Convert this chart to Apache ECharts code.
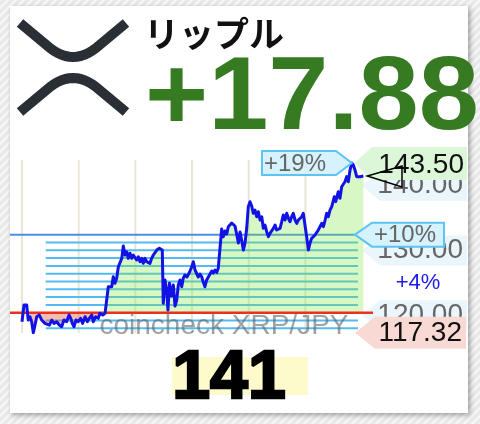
<!DOCTYPE html>
<html><head><meta charset="utf-8">
<script src="https://cdn.jsdelivr.net/npm/echarts@6/dist/echarts.min.js"></script>
<style>html,body{margin:0;padding:0;background:#fff}#c{width:480px;height:424px}</style>
</head><body><div id="c"></div>
<script>
// ---- data (hours since start, price in JPY) ----
const hours = [0.00,0.14,0.33,0.44,0.56,0.68,0.80,0.92,1.04,1.22,
1.39,1.50,1.62,1.74,1.93,2.10,2.26,2.45,2.63,2.80,
2.96,3.15,3.32,3.44,3.55,3.67,3.81,3.97,4.14,4.28,
4.45,4.61,4.75,4.92,5.03,5.20,5.38,5.50,5.70,5.86,
5.98,6.09,6.21,6.33,6.44,6.56,6.68,6.80,6.92,7.04,
7.15,7.27,7.39,7.50,7.62,7.74,7.85,7.97,8.09,8.21,
8.33,8.45,8.56,8.68,8.80,8.91,9.03,9.15,9.27,9.39,
9.51,9.69,9.81,9.90,9.97,10.09,10.21,10.30,10.41,10.55,
10.68,10.80,10.92,11.03,11.15,11.27,11.38,11.50,11.64,11.79,
11.98,12.09,12.21,12.33,12.44,12.56,12.68,12.79,12.91,13.03,
13.15,13.27,13.39,13.50,13.62,13.74,13.85,13.97,14.09,14.21,
14.33,14.45,14.56,14.68,14.80,14.91,15.03,15.15,15.27,15.39,
15.50,15.62,15.74,15.86,15.97,16.09,16.21,16.32,16.44,16.56,
16.68,16.80,16.92,17.03,17.15,17.27,17.39,17.50,17.62,17.74,
17.86,17.97,18.09,18.21,18.33,18.44,18.56,18.68,18.80,18.91,
19.03,19.15,19.27,19.39,19.50,19.62,19.74,19.85,19.97,20.09,
20.21,20.32,20.44,20.56,20.68,20.80,20.91,21.03,21.15,21.27,
21.39,21.50,21.62,21.74,21.86,21.95,22.04,22.14,22.23,22.32,
22.44,22.56,22.67,22.79,22.91,23.03,23.15,23.27,23.38,23.50,
23.62,23.74,23.85,23.97,24.09];
const prices = [119.01,121.59,121.59,119.27,119.78,119.01,117.32,118.50,119.78,120.04,
119.27,119.53,118.76,119.01,118.50,119.27,118.76,119.01,118.50,118.24,
119.27,119.01,120.04,119.53,118.76,118.24,119.27,119.01,119.53,118.76,
119.78,119.01,119.53,120.04,119.01,119.78,119.53,120.31,120.04,120.30,
120.31,124.41,124.67,124.41,125.95,124.94,125.71,127.50,127.76,128.79,
130.69,129.30,129.81,128.79,129.57,128.79,129.30,129.57,128.53,129.04,
128.27,128.79,128.02,128.79,128.27,128.53,128.02,128.79,129.30,129.04,
130.07,130.34,130.34,130.07,121.85,125.44,123.90,120.81,124.94,122.98,
124.67,121.43,122.36,124.67,125.44,124.41,125.71,126.22,125.91,126.48,
127.50,128.27,126.99,126.73,125.91,126.37,125.95,125.14,124.41,125.44,
125.91,126.06,126.83,126.52,126.99,126.60,127.25,127.50,133.31,132.13,
133.01,132.54,133.67,133.47,134.24,134.44,133.78,132.54,131.15,132.85,
131.62,130.07,131.15,133.47,136.76,137.53,136.86,135.74,136.25,135.21,
135.98,134.70,135.21,133.42,133.93,132.90,132.13,132.65,132.39,133.42,
133.93,133.16,132.90,133.42,134.44,135.48,134.70,135.74,134.97,134.44,
135.21,135.74,134.70,134.19,134.70,134.97,135.21,135.74,135.48,132.13,
130.07,131.11,131.88,131.62,132.39,132.65,133.16,133.42,134.19,133.67,
134.70,135.74,135.21,136.25,136.76,136.56,138.30,137.53,137.79,139.07,
138.05,139.84,139.60,140.61,141.39,140.61,142.42,143.50,143.19,142.42,
141.39,141.57,141.39,141.49,141.49];
const basePrice = 120.40;
const stripePercents = [-2,-1,1,2,3,4,5,6,7,8,9];
const targetPercent = 10;
const gridHours = [0,4,8,12,16,20];
const tickLabels = [120,130,140];
const coinName = 'リップル';
const changeText = '+17.88';
const currentText = '141';
const sidePercentText = '+4%';
const watermarkText = 'coincheck XRP/JPY';

// ---- chart ----
const tile = document.createElement('canvas'); tile.width = 8; tile.height = 8;
(function(){const c = tile.getContext('2d'); c.fillStyle = '#e8e8e8'; c.fillRect(0,0,8,8);
 c.strokeStyle = '#f6f6f6'; c.lineWidth = 2.5; c.beginPath();
 c.moveTo(-2,10); c.lineTo(10,-2); c.moveTo(-6,6); c.lineTo(6,-6); c.moveTo(2,14); c.lineTo(14,2); c.stroke();})();

const chart = echarts.init(document.getElementById('c'), null, {renderer:'canvas'});
const pts = hours.map((h,i)=>[h, prices[i]]);
const upPts = hours.map((h,i)=>[h, Math.max(prices[i], basePrice)]);
const downPts = hours.map((h,i)=>[h, Math.min(prices[i], basePrice)]);
const FONT = '"Liberation Sans", Arial, sans-serif';

chart.setOption({
  animation: false,
  backgroundColor: {image: tile, repeat: 'repeat'},
  grid: {left: 22, right: 116.5, top: 160, bottom: 91, outerBoundsMode: 'none', containLabel: false},
  xAxis: {type: 'value', min: 0, max: 24.1, show: false},
  yAxis: {type: 'value', position: 'right', min: 117.27, max: 143.96, scale: true,
    axisLine: {show: false}, axisTick: {show: false}, splitLine: {show: false},
    axisLabel: {customValues: tickLabels, formatter: v => Number(v).toFixed(2), color: '#666',
      fontSize: 28, fontFamily: FONT, align: 'right', margin: 99.5}},
  series: [
    {type: 'line', data: upPts, showSymbol: false, z: 2, silent: true,
      lineStyle: {width: 0, opacity: 0}, areaStyle: {color: 'rgba(130,230,70,0.45)', origin: basePrice}},
    {type: 'line', data: downPts, showSymbol: false, z: 2, silent: true,
      lineStyle: {width: 0, opacity: 0}, areaStyle: {color: 'rgba(232,100,78,0.62)', origin: basePrice}},
    {type: 'line', data: pts, showSymbol: false, z: 4, silent: true,
      lineStyle: {color: '#1212e6', width: 3, join: 'round'}}
  ]
});

const P = (h, v) => chart.convertToPixel({gridIndex: 0}, [h, v]);
const yTop = P(0, 143.96)[1], yBot = P(0, 117.27)[1];
const g = [];
// card
g.push({type: 'rect', z: -10, shape: {x: 10, y: 6, width: 458, height: 407},
  style: {fill: '#fff', shadowBlur: 5, shadowOffsetX: 2, shadowOffsetY: 2, shadowColor: 'rgba(0,0,0,0.35)'}});
// label backgrounds
tickLabels.forEach(v => { const y = P(0, v)[1];
  g.push({type: 'polygon', z: -5, shape: {points: [[362,y],[380,y-15],[467,y-15],[467,y+15],[380,y+15]]}, style: {fill: '#eaf6fb'}}); });
// vertical grid
gridHours.forEach(h => { const x = P(h, 130)[0];
  g.push({type: 'line', z: -4, shape: {x1: x, y1: yTop, x2: x, y2: yBot}, style: {stroke: '#e9e7d3', lineWidth: 2}}); });
// stripes
stripePercents.forEach(p => { const y = P(0, basePrice * (1 + p/100))[1];
  g.push({type: 'line', z: -3, shape: {x1: 45.7, y1: y, x2: 358, y2: y}, style: {stroke: '#55baf0', lineWidth: 2}}); });
// target line
const ty = P(0, basePrice * (1 + targetPercent/100))[1];
g.push({type: 'line', z: -3, shape: {x1: 10, y1: ty, x2: 355, y2: ty}, style: {stroke: '#4a8fe6', lineWidth: 2}});
// base line
const by = P(0, basePrice)[1];
g.push({type: 'line', z: 3, shape: {x1: 10, y1: by, x2: 373, y2: by}, style: {stroke: '#e8321e', lineWidth: 2.5}});
// watermark
g.push({type: 'text', z: 5, style: {text: watermarkText, x: 224, y: 326, align: 'center', verticalAlign: 'middle',
  font: '28px ' + FONT, fill: 'rgba(100,100,100,0.6)'}});
// max / min
let iMax = 0, iMin = 0; prices.forEach((p,i)=>{ if (p > prices[iMax]) iMax = i; if (p < prices[iMin]) iMin = i; });
const pk = P(hours[iMax], prices[iMax]);
const mn = P(hours[iMin], prices[iMin]);
g.push({type: 'polygon', z: 10, shape: {points: [[pk[0]+3,pk[1]],[pk[0]+20,pk[1]-16],[467,pk[1]-16],[467,pk[1]+17],[pk[0]+20,pk[1]+17]]}, style: {fill: '#dcf7d8'}});
g.push({type: 'text', z: 11, style: {text: prices[iMax].toFixed(2), x: 464, y: pk[1]+2, align: 'right', verticalAlign: 'middle', font: '28px ' + FONT, fill: '#111'}});
g.push({type: 'polygon', z: 10, shape: {points: [[355,mn[1]],[375,mn[1]-16],[466,mn[1]-16],[466,mn[1]+16],[375,mn[1]+16]]}, style: {fill: '#f9d9d4'}});
g.push({type: 'text', z: 11, style: {text: prices[iMin].toFixed(2), x: 462, y: mn[1]+1, align: 'right', verticalAlign: 'middle', font: '28px ' + FONT, fill: '#111'}});
// target box
g.push({type: 'polygon', z: 10, shape: {points: [[355,ty],[372,ty-12],[444,ty-12],[444,ty+12],[372,ty+12]]}, style: {fill: '#d6f2fc', stroke: '#5cc3f2', lineWidth: 2}});
g.push({type: 'text', z: 11, style: {text: '+' + targetPercent + '%', x: 374, y: ty+1, align: 'left', verticalAlign: 'middle', font: '24px ' + FONT, fill: '#666'}});
// peak percent box
const peakPct = Math.round((prices[iMax]/basePrice - 1) * 100);
g.push({type: 'polygon', z: 10, shape: {points: [[262,pk[1]-12],[336,pk[1]-12],[pk[0],pk[1]],[336,pk[1]+12],[262,pk[1]+12]]}, style: {fill: '#d6f2fc', stroke: '#5cc3f2', lineWidth: 2}});
g.push({type: 'text', z: 11, style: {text: '+' + peakPct + '%', x: 264, y: pk[1]+1, align: 'left', verticalAlign: 'middle', font: '24px ' + FONT, fill: '#666'}});
// side percent
g.push({type: 'text', z: 11, style: {text: sidePercentText, x: 418, y: 283, align: 'center', verticalAlign: 'middle', font: '22px ' + FONT, fill: '#1a1ae6'}});
// current marker
const last = P(hours[hours.length-1], prices[prices.length-1]);
g.push({type: 'polygon', z: 12, shape: {points: [[last[0]+4,last[1]],[402,last[1]-10],[402,last[1]+11]]}, style: {fill: 'rgba(0,0,0,0)', stroke: '#000', lineWidth: 1.5}});
// current value
g.push({type: 'rect', z: 10, shape: {x: 172, y: 357, width: 136, height: 38}, style: {fill: '#fdfbcc'}});
g.push({type: 'text', z: 11, style: {text: currentText, x: 229, y: 379, align: 'center', verticalAlign: 'middle', font: 'bold 68px ' + FONT, fill: '#000', stroke: '#000', lineWidth: 2.5}});
// header: logo strokes
function logoStroke(y0, yc, yq) {
  const p = [[20, y0], [50, yc]];
  for (let i = 1; i < 12; i++) { const t = i / 12;
    p.push([(1-t)*(1-t)*50 + 2*(1-t)*t*73 + t*t*96, (1-t)*(1-t)*yc + 2*(1-t)*t*yq + t*t*yc]); }
  p.push([96, yc], [126, y0]);
  return p;
}
g.push({type: 'polyline', z: 10, shape: {points: logoStroke(23, 48, 66)}, style: {fill: null, stroke: '#2a2e35', lineWidth: 10, lineJoin: 'round'}});
g.push({type: 'polyline', z: 10, shape: {points: logoStroke(112, 87, 69)}, style: {fill: null, stroke: '#2a2e35', lineWidth: 10, lineJoin: 'round'}});
g.push({type: 'text', z: 10, style: {text: coinName, x: 144, y: 34, align: 'left', verticalAlign: 'middle', font: 'bold 35px "Noto Sans CJK JP"', fill: '#111'}});
g.push({type: 'text', z: 10, x: 145, y: 100, scaleX: 1.04, style: {text: changeText, x: 0, y: 0, align: 'left', verticalAlign: 'middle', font: 'bold 104px ' + FONT, fill: '#367a22'}});

chart.setOption({graphic: {elements: g}});
</script>
</body></html>
